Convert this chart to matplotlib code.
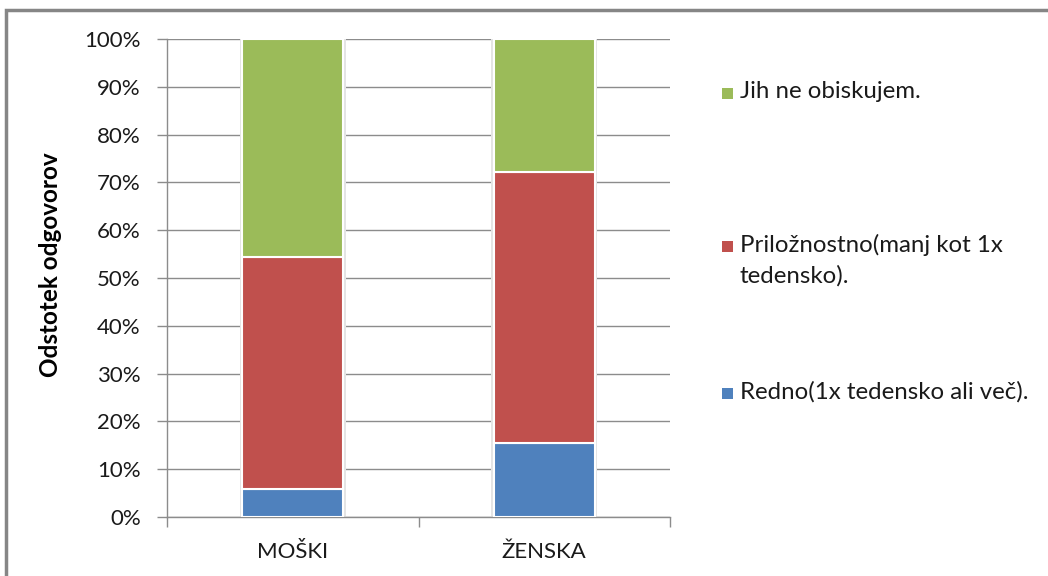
import matplotlib
matplotlib.use('Agg')
import matplotlib.pyplot as plt
from matplotlib.patches import Rectangle
from matplotlib.ticker import FixedLocator, NullFormatter

plt.rcParams['font.family'] = ['Lato', 'DejaVu Sans']

categories = ['MOŠKI', 'ŽENSKA']
series_names = ['Redno(1x tedensko ali več).',
                'Priložnostno(manj kot 1x\ntedensko).',
                'Jih ne obiskujem.']
redno = [5.8, 15.4]
priloznostno = [48.5, 56.8]
ne_obiskujem = [45.7, 27.8]
colors = ['#4f81bd', '#c0504d', '#9bbb59']
ytick_labels = ['0%', '10%', '20%', '30%', '40%', '50%', '60%', '70%', '80%', '90%', '100%']

fig = plt.figure(figsize=(10.48, 5.76), dpi=100)
ax = fig.add_axes([0.1594, 0.1024, 0.4799, 0.8299])

x = list(range(len(categories)))
bottom = [0, 0]
for vals, col in zip([redno, priloznostno, ne_obiskujem], colors):
    # light shadow behind each bar
    ax.bar(x, vals, 0.42, bottom=bottom, color='#e4e4e4', edgecolor='none', zorder=2)
    ax.bar(x, vals, 0.4, bottom=bottom, color=col, edgecolor='white', linewidth=1.5, zorder=3)
    bottom = [b + v for b, v in zip(bottom, vals)]

ax.set_xlim(-0.5, 1.5)
ax.set_ylim(0, 100)
ax.set_yticks(range(0, 101, 10))
ax.set_yticklabels(ytick_labels, fontsize=16, color='#1a1a1a')
ax.yaxis.grid(True, color='#8c8c8c', linewidth=1.0, zorder=0)
ax.set_axisbelow(True)

ax.xaxis.set_major_locator(FixedLocator([-0.5, 0.5, 1.5]))
ax.xaxis.set_major_formatter(NullFormatter())
ax.xaxis.set_minor_locator(FixedLocator(x))
ax.set_xticklabels(categories, minor=True, fontsize=16, color='#1a1a1a')
ax.tick_params(axis='x', which='major', length=7, color='#8c8c8c', width=1)
ax.tick_params(axis='x', which='minor', length=0, pad=18)
ax.tick_params(axis='y', length=7, color='#8c8c8c', width=1, pad=12)

for side in ['top', 'right']:
    ax.spines[side].set_visible(False)
for side in ['left', 'bottom']:
    ax.spines[side].set_color('#8c8c8c')
    ax.spines[side].set_linewidth(1.0)

ax.set_ylabel('Odstotek odgovorov', fontsize=17.5, fontweight='bold')
ax.yaxis.set_label_coords(-0.209, 0.527)

# legend, placed by hand like the original
legend_y = [1 - 93 / 576, 1 - 246 / 576, 1 - 393 / 576]
for name, col, ly in zip(series_names[::-1], colors[::-1], legend_y):
    fig.patches.append(Rectangle((722 / 1048, ly - 5.5 / 576), 11 / 1048, 11 / 576,
                                 transform=fig.transFigure, facecolor=col,
                                 edgecolor='none', figure=fig))
    fig.text(740 / 1048, ly + 12 / 576, name, fontsize=17.3, color='#1a1a1a',
             va='top', ha='left', linespacing=1.5)

# outer chart border
fig.patches.append(Rectangle((6 / 1048, -0.1), 1.2, 1.1 - 10 / 576,
                             transform=fig.transFigure, facecolor='none',
                             edgecolor='#868686', linewidth=2.5, figure=fig))

fig.savefig('out.png', dpi=100)
